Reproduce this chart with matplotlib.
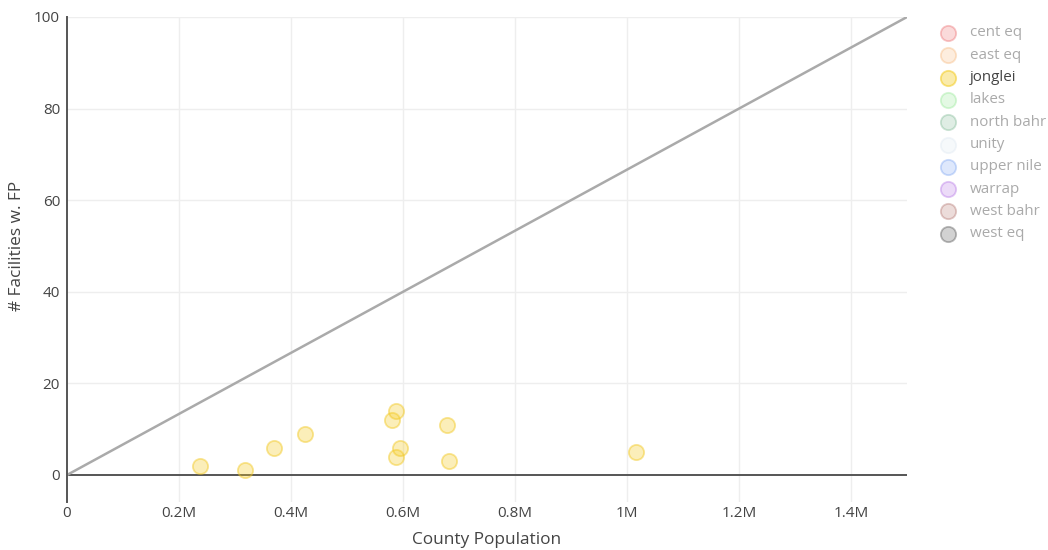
import matplotlib
matplotlib.use("Agg")
import matplotlib.pyplot as plt
import matplotlib.colors as mc
from matplotlib.lines import Line2D

plt.rcParams['font.family'] = ['Open Sans', 'DejaVu Sans']

# Data
population = [237500, 318000, 370000, 425000, 580000, 587500, 587500, 595000, 679000, 682000, 1016000]
facilities = [2, 1, 6, 9, 12, 14, 4, 6, 11, 3, 5]

ref_x = [0, 1500000]
ref_y = [0, 100]

legend_labels = ["cent eq", "east eq", "jonglei", "lakes", "north bahr", "unity",
                 "upper nile", "warrap", "west bahr", "west eq"]
legend_colors = ["#e8474a", "#f5a65b", "#f2c80f", "#7be37b", "#5fa87a", "#d5e2ee",
                 "#5b8ef0", "#a14fe0", "#a0524a", "#222222"]
active = "jonglei"

xticks = [0, 200000, 400000, 600000, 800000, 1000000, 1200000, 1400000]
xticklabels = ["0", "0.2M", "0.4M", "0.6M", "0.8M", "1M", "1.2M", "1.4M"]
yticks = [0, 20, 40, 60, 80, 100]

W, H = 1048, 550
fig = plt.figure(figsize=(W / 100, H / 100), dpi=100)
ax = fig.add_axes([67 / W, 1 - 502 / H, 840 / W, 485 / H])

ax.set_xlim(0, 1500000)
ax.set_ylim(-5.9, 100)

# grid
for t in xticks[1:]:
    ax.axvline(t, color="#eeeeee", lw=1, zorder=0)
for t in yticks[1:]:
    ax.axhline(t, color="#eeeeee", lw=1, zorder=0)
ax.axhline(0, color="#555555", lw=1.4, zorder=1)

ax.plot(ref_x, ref_y, color="#aaaaaa", lw=1.8, zorder=2)

ax.scatter(population, facilities, s=120, facecolor=(0.96, 0.80, 0.15, 0.32),
           edgecolor=(0.95, 0.78, 0.10, 0.45), linewidth=1.3, zorder=3)

for s in ["top", "right", "bottom"]:
    ax.spines[s].set_visible(False)
ax.spines["left"].set_color("#555555")
ax.spines["left"].set_linewidth(1.4)

ax.set_xticks(xticks)
ax.set_xticklabels(xticklabels)
ax.set_yticks(yticks)
ax.tick_params(axis="x", length=0, pad=3, labelsize=11, labelcolor="#444444")
ax.tick_params(axis="y", length=0, pad=5, labelsize=11, labelcolor="#444444")

fig.text(487 / W, 1 - 540 / H, "County Population", ha="center", va="center",
         fontsize=12.4, color="#444444")
fig.text(17 / W, 1 - 246 / H, "# Facilities w. FP", ha="center", va="center",
         fontsize=12.4, color="#444444", rotation=90)

# legend
for i, (lab, col) in enumerate(zip(legend_labels, legend_colors)):
    y = 1 - (33 + i * 22.3) / H
    on = lab == active
    fa = 0.35 if on else 0.2
    ea = 0.5 if on else 0.3
    rgb = mc.to_rgb(col)
    fig.add_artist(Line2D([948 / W], [y], marker="o", markersize=11,
                          markerfacecolor=(*rgb, fa), markeredgecolor=(*rgb, ea),
                          markeredgewidth=1.3, linestyle="none"))
    fig.text(970 / W, y, lab, ha="left", va="center", fontsize=10.9,
             color="#444444" if on else "#aaaaaa")

fig.savefig("out.png", dpi=100)
